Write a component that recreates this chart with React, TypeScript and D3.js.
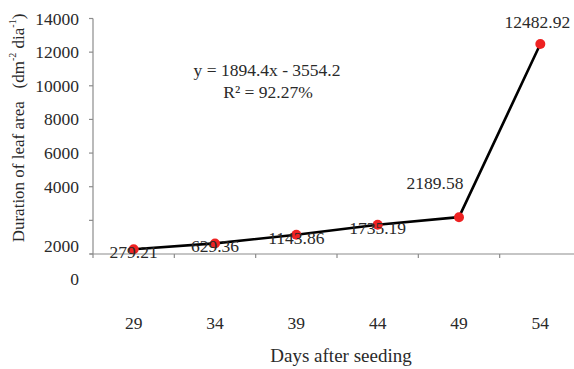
import React from "react";
import * as d3 from "d3";

const days = ["29", "34", "39", "44", "49", "54"];
const duration = [279.21, 629.36, 1143.86, 1735.19, 2189.58, 12482.92];
const valueLabels = ["279.21", "629.36", "1143.86", "1735.19", "2189.58", "12482.92"];
const yTickValues = [0, 2000, 4000, 6000, 8000, 10000, 12000, 14000];
const equation = "y = 1894.4x - 3554.2";
const rSquared = "R² = 92.27%";

const W = 574;
const H = 369;
const FONT = "'Liberation Serif', 'Times New Roman', serif";
const TEXT = "#2a2a2a";
const FS = 17.5;

export default function App() {
  const x = d3.scaleBand<string>().domain(days).range([93, 581]).paddingInner(0).paddingOuter(0);
  const y = d3.scaleLinear().domain([0, 14000]).range([254, 18.5]);
  const step = y(0) - y(2000);
  const line = d3
    .line<number>()
    .x((_, i) => (x(days[i]) as number) + x.bandwidth() / 2)
    .y((d) => y(d));

  // label offsets relative to the point (reference places the last two differently)
  const labelOffset = (i: number): [number, number] => {
    if (i === 4) return [-24, -34];
    if (i === 5) return [-3, -22];
    return [0, 3];
  };

  const ax = x.range()[0];
  const y0 = y(0);

  return (
    <svg width={W} height={H} style={{ position: "absolute", left: 0, top: 0, background: "#fff" }} fontFamily={FONT}>
      <rect width={W} height={H} fill="#fff" />
      {/* y axis */}
      <line x1={ax} x2={ax} y1={y(14000)} y2={y0} stroke="#8c8c8c" strokeWidth={1.2} />
      {yTickValues.map((v) => (
        <line key={v} x1={ax - 4} x2={ax} y1={y(v)} y2={y(v)} stroke="#8c8c8c" strokeWidth={1.2} />
      ))}
      {yTickValues.map((v) => {
        if (v === 2000) return null;
        if (v === 0) {
          // the reference shows "2000" just above the baseline and "0" below it
          return (
            <g key={v}>
              <text x={ax - 14} y={y0 - step * 0.24} textAnchor="end" dominantBaseline="central" fontSize={FS} fill={TEXT}>
                2000
              </text>
              <text x={ax - 14} y={y0 + step * 0.74} textAnchor="end" dominantBaseline="central" fontSize={FS} fill={TEXT}>
                0
              </text>
            </g>
          );
        }
        return (
          <text key={v} x={ax - 14} y={y(v)} textAnchor="end" dominantBaseline="central" fontSize={FS} fill={TEXT}>
            {String(v)}
          </text>
        );
      })}
      {/* x axis */}
      <line x1={ax - 3} x2={W} y1={y0} y2={y0} stroke="#8c8c8c" strokeWidth={1.2} />
      {days.map((d) => (
        <line key={d} x1={x(d) as number} x2={x(d) as number} y1={y0} y2={y0 + 4} stroke="#8c8c8c" strokeWidth={1.2} />
      ))}
      {days.map((d) => (
        <text key={d} x={(x(d) as number) + x.bandwidth() / 2} y={323} textAnchor="middle" dominantBaseline="central" fontSize={FS} fill={TEXT}>
          {d}
        </text>
      ))}
      {/* series */}
      <path d={line(duration) || ""} fill="none" stroke="#000" strokeWidth={2.6} strokeLinejoin="round" />
      {duration.map((v, i) => (
        <circle key={i} cx={(x(days[i]) as number) + x.bandwidth() / 2} cy={y(v)} r={5} fill="#ee2222" />
      ))}
      {duration.map((v, i) => {
        const [dx, dy] = labelOffset(i);
        return (
          <text key={i} x={(x(days[i]) as number) + x.bandwidth() / 2 + dx} y={y(v) + dy} textAnchor="middle" dominantBaseline="central" fontSize={FS} fill={TEXT}>
            {valueLabels[i]}
          </text>
        );
      })}
      {/* equation */}
      <text x={267} y={70} textAnchor="middle" dominantBaseline="central" fontSize={FS} fill={TEXT}>
        {equation}
      </text>
      <text x={268} y={92} textAnchor="middle" dominantBaseline="central" fontSize={FS} fill={TEXT}>
        {rSquared}
      </text>
      {/* axis titles */}
      <text
        transform={`translate(18, 128) rotate(-90)`}
        textAnchor="middle"
        dominantBaseline="central"
        fontSize={17}
        fill={TEXT}
      >
        Duration of leaf area{"\u00a0\u00a0\u00a0"}(dm
        <tspan fontSize={10} dy={-6}>-2</tspan>
        <tspan dy={6}> dia</tspan>
        <tspan fontSize={10} dy={-6}>-1</tspan>
        <tspan dy={6}>)</tspan>
      </text>
      <text x={341} y={355} textAnchor="middle" dominantBaseline="central" fontSize={19} fill={TEXT}>
        Days after seeding
      </text>
    </svg>
  );
}
